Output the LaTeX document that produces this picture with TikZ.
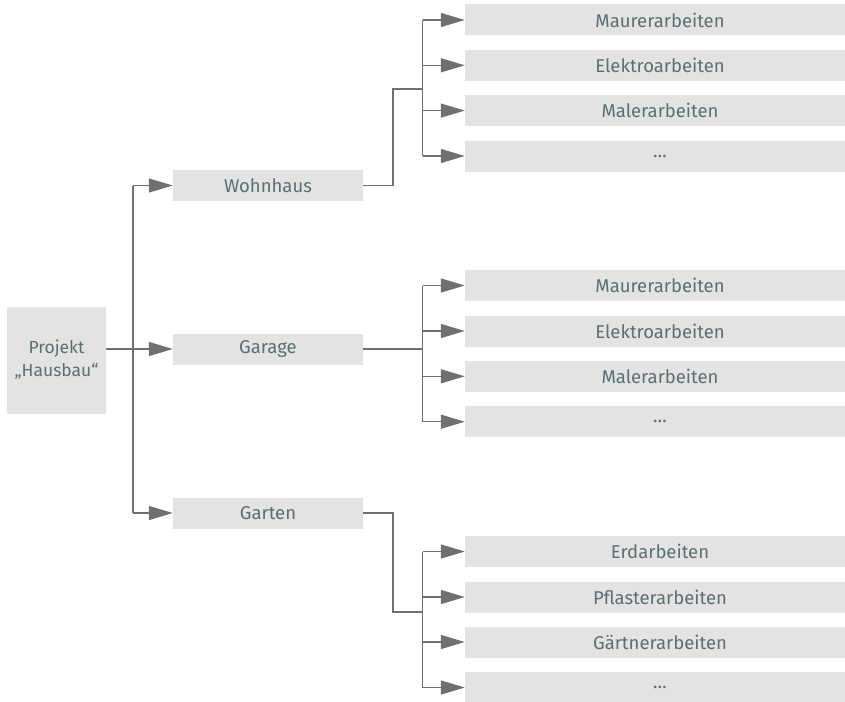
\documentclass[tikz,border=0pt]{standalone}
\usepackage{fontspec}
\setmainfont{Fira Sans}
\usetikzlibrary{arrows.meta, positioning, calc}
\definecolor{boxgrey}{HTML}{E3E3E1}
\definecolor{txtblue}{HTML}{587078}
\definecolor{lngrey}{HTML}{707070}
\tikzset{
  root/.style={fill=boxgrey, text=txtblue, minimum width=99pt, minimum height=107pt, inner sep=0pt, align=center, font=\fontsize{17.5}{23}\selectfont},
  mid/.style={fill=boxgrey, text=txtblue, minimum width=190pt, minimum height=31pt, inner sep=0pt, font=\fontsize{18.5}{20}\selectfont},
  leaf/.style={mid, minimum width=390pt},
  lin/.style={draw=lngrey, line width=1.3pt},
  arr/.style={lin, -{Triangle[length=24pt, width=14pt]}}
}
\begin{document}
\begin{tikzpicture}[x=1pt, y=-1pt]
	\useasboundingbox (0,0) rectangle (845,701);
	\node[root] (proj) at (56.5,360) {Projekt\\„Hausbau“};
	\node[mid] (wohn) at (268,185.5) {Wohnhaus};
	\node[mid] (gar) at (268,349) {Garage};
	\node[mid] (gart) at (268,513) {Garten};
	% trunk from the project box
	\coordinate (trunk) at (133,0);
	\draw[lin] (trunk |- wohn) -- (trunk |- gart);
	\draw[arr] (proj.east |- gar) -- (gar.west);
	\draw[arr] (trunk |- wohn) -- (wohn.west);
	\draw[arr] (trunk |- gart) -- (gart.west);
	% leaves, one row each
	\foreach \n/\y/\t in {w1/20/Maurerarbeiten, w2/65.3/Elektroarbeiten, w3/110.6/Malerarbeiten, w4/156/…,
	  g1/285.5/Maurerarbeiten, g2/331/Elektroarbeiten, g3/376.3/Malerarbeiten, g4/421.7/…,
	  t1/551.5/Erdarbeiten, t2/597/Pflasterarbeiten, t3/642/Gärtnerarbeiten, t4/687.5/…}
	  { \node[leaf] (\n) at (660,\y) {\t}; \draw[arr] ($(\n.west)+(-42,0)$) -- (\n.west); }
	\foreach \a/\b in {w1/w4, g1/g4, t1/t4} { \draw[lin] ($(\a.west)+(-42,0)$) -- ($(\b.west)+(-42,0)$); }
	% branches into the leaf columns
	\draw[lin] (wohn.east) -| (393,89) -- (423,89);
	\draw[lin] (gar.east) -- ++(60,0);
	\draw[lin] (gart.east) -| (393,612) -- (423,612);
\end{tikzpicture}
\end{document}
